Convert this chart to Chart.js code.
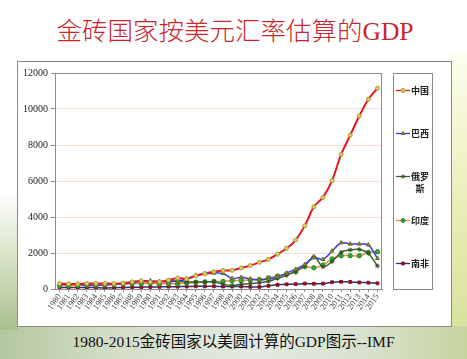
<!DOCTYPE html>
<html><head><meta charset="utf-8">
<script src="https://cdn.jsdelivr.net/npm/chart.js@4/dist/chart.umd.min.js"></script>
<style>
html,body{margin:0;padding:0;width:467px;height:359px;overflow:hidden;}
body{position:relative;background:#fff;font-family:"Liberation Serif","Noto Sans CJK SC",serif;}
#bgR{position:absolute;left:450px;top:52px;width:17px;height:307px;background:linear-gradient(180deg,#fdfdf0 0%,#f2f4cc 30%,#e6eab0 60%,#d4de98 100%);}
#bgB{position:absolute;left:0;top:326px;width:467px;height:33px;background:linear-gradient(90deg,#b4c8a0 0%,#d4dec8 25%,#e2eae2 55%,#d6e0cc 80%,#c8d4a0 100%);}
#bgL{position:absolute;left:0;top:190px;width:18px;height:140px;background:linear-gradient(180deg,#ffffff 0%,#dfe8d0 40%,#a9c08e 100%);}
#box{position:absolute;left:17px;top:61px;width:435px;height:266px;background:#fff;border:1px solid #8a8a8a;box-sizing:border-box;}
#title{position:absolute;left:0;width:470px;top:15px;text-align:center;color:#c8262c;font-size:25.5px;line-height:34px;white-space:nowrap;font-weight:300;}
#cap{position:absolute;left:0;width:467px;top:331px;text-align:center;color:#111;font-size:15.5px;line-height:22px;white-space:nowrap;}
#wrap{position:absolute;left:17px;top:61px;width:435px;height:266px;}
</style>
</head><body>
<div id="bgR"></div><div id="bgB"></div><div id="bgL"></div>
<div id="box"></div>
<div id="title">金砖国家按美元汇率估算的GDP</div>
<div id="cap">1980-2015金砖国家以美圆计算的GDP图示--IMF</div>
<div id="wrap"><canvas id="c" width="435" height="266"></canvas></div>
<script>
const years = ["1980","1981","1982","1983","1984","1985","1986","1987","1988","1989","1990","1991","1992","1993","1994","1995","1996","1997","1998","1999","2000","2001","2002","2003","2004","2005","2006","2007","2008","2009","2010","2011","2012","2013","2014","2015"];
const seriesNames = ["中国","巴西","俄罗斯","印度","南非"];
const china = [300,285,280,300,310,305,295,320,400,450,390,410,490,610,560,730,860,960,1030,1040,1170,1300,1480,1650,1940,2260,2720,3520,4570,5090,6020,7480,8540,9610,10540,11150];
const brazil = [235,260,280,200,210,220,270,290,330,450,460,410,390,440,560,770,850,880,860,590,650,560,510,560,670,890,1100,1370,1740,1650,2110,2570,2500,2500,2450,1700];
const russia = [null,null,null,null,null,null,null,null,null,null,null,null,460,435,395,395,390,405,270,200,260,310,345,430,590,765,990,1300,1800,1230,1520,2040,2170,2200,1980,1280];
const india = [190,195,205,220,215,235,250,280,300,300,325,280,295,285,335,365,390,420,420,460,475,495,525,620,720,835,950,1240,1180,1330,1670,1850,1850,1850,2040,2070];
const southAfrica = [85,85,77,86,77,58,65,87,98,100,112,120,130,130,136,150,145,150,135,135,135,120,115,175,230,258,272,300,290,300,375,400,395,365,350,315];
const yTicks = [0,2000,4000,6000,8000,10000,12000];

const styles = [
  {line:'#e8141c', width:2, pt:'circle', r:2, fill:'#e2d25a', stroke:'#a09a38'},
  {line:'#3a3ae6', width:1.5, pt:'triangle', r:2.3, fill:'#8c8a2c', stroke:'#6e6c22'},
  {line:'#2e6a2e', width:1.5, pt:'star', r:2.3, fill:'#3c4a24', stroke:'#3c4a24'},
  {line:'#f08a3a', width:1.5, pt:'circle', r:2.2, fill:'#3aa23a', stroke:'#2a8a2a'},
  {line:'#34306e', width:1.5, pt:'rect', r:2, fill:'#8a1428', stroke:'#8a1428'}
];
const allData = [china, brazil, russia, india, southAfrica];

const datasets = allData.map((d,i)=>({
  label: seriesNames[i], data: d,
  borderColor: styles[i].line, borderWidth: styles[i].width,
  pointStyle: styles[i].pt, pointRadius: styles[i].r,
  pointBackgroundColor: styles[i].fill, pointBorderColor: styles[i].stroke, pointBorderWidth: 1,
  tension: 0.3, fill: false, spanGaps: false
}));

const legendPlugin = {
  id: 'boxLegend',
  afterDraw(chart){
    const ctx = chart.ctx, a = chart.chartArea;
    ctx.save();
    ctx.strokeStyle = '#8c8c8c'; ctx.lineWidth = 1;
    ctx.strokeRect(Math.round(a.left)+0.5, Math.round(a.top)+0.5, Math.round(a.right-a.left)-1, Math.round(a.bottom-a.top));
    const bx = Math.round(a.right) + 11, bw = 39;
    ctx.strokeStyle = '#8a8a8a';
    ctx.strokeRect(bx+0.5, Math.round(a.top)+0.5, bw, Math.round(a.bottom-a.top));
    const n = seriesNames.length, step = (a.bottom - a.top)/n;
    ctx.font = 'bold 9px "Noto Sans CJK SC"';
    ctx.textBaseline = 'middle';
    seriesNames.forEach((name,i)=>{
      const ds = chart.data.datasets[i];
      const y = Math.round(a.top + 17 + i*step) + 0.5;
      ctx.strokeStyle = ds.borderColor; ctx.lineWidth = 1.3;
      ctx.beginPath(); ctx.moveTo(bx+3, y); ctx.lineTo(bx+17, y); ctx.stroke();
      ctx.fillStyle = ds.pointBackgroundColor; ctx.strokeStyle = ds.pointBorderColor; ctx.lineWidth = 1;
      Chart.helpers.drawPoint(ctx, {pointStyle: ds.pointStyle, radius: 2, rotation: 0, borderWidth: 1}, bx+10, y);
      ctx.fillStyle = '#222';
      const lines = [];
      for (let k=0;k<name.length;k+=2) lines.push(name.slice(k,k+2));
      lines.forEach((t,j)=>{
        ctx.textAlign = j===0 ? 'left' : 'center';
        ctx.fillText(t, j===0 ? bx+18 : bx+27, y + j*12);
      });
    });
    ctx.restore();
  }
};

new Chart(document.getElementById('c'), {
  type: 'line',
  data: { labels: years, datasets },
  options: {
    responsive: false, animation: false,
    layout: { padding: { top: 12, right: 70, left: 0, bottom: 0 } },
    plugins: { legend: { display: false }, title: { display: false }, tooltip: { enabled: false } },
    scales: {
      x: {
        offset: true,
        grid: { drawOnChartArea: false, drawTicks: true, tickLength: 3, color: '#8c8c8c' },
        border: { color: '#8c8c8c' },
        ticks: { autoSkip: false, minRotation: 55, maxRotation: 55, padding: 0, color: '#444', font: { family: 'Liberation Serif', size: 8.5 } },
        afterFit: s => { s.height = 38; }
      },
      y: {
        min: 0, max: 12000,
        afterBuildTicks: s => { s.ticks = yTicks.map(v=>({value:v})); },
        grid: { color: '#f2ddd0', tickColor: '#8c8c8c', tickLength: 4 },
        border: { color: '#8c8c8c' },
        ticks: { padding: 3, color: '#222', font: { family: 'Liberation Serif', size: 10 }, callback: v => String(v) },
        afterFit: s => { s.width = 38; }
      }
    }
  },
  plugins: [legendPlugin]
});
</script>
</body></html>
